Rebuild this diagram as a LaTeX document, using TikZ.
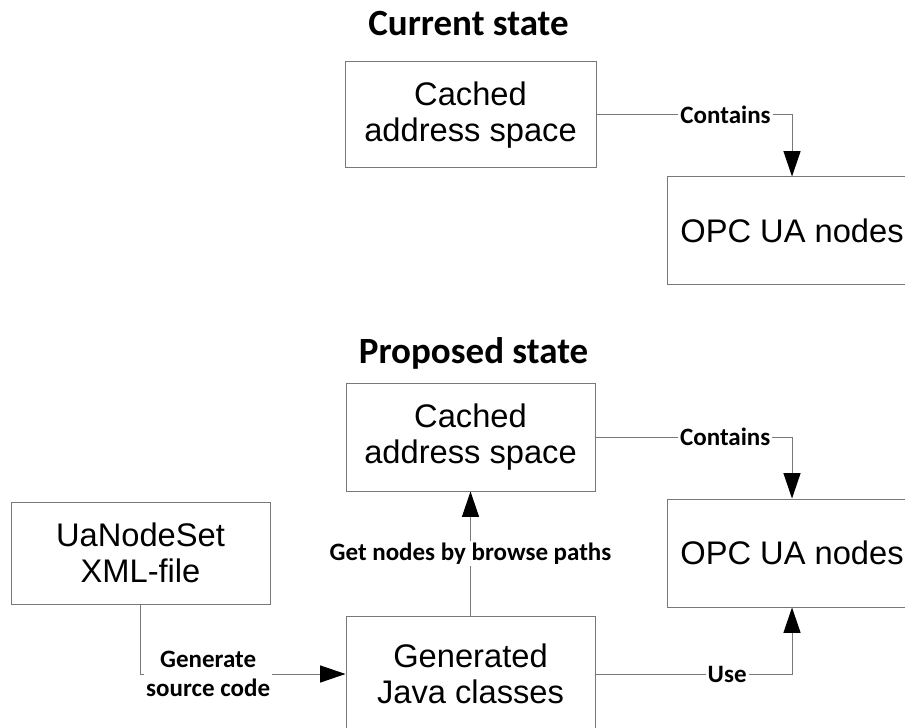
\documentclass[tikz,border=0pt]{standalone}
\usepackage{fontspec}
\setmainfont{Liberation Sans}
\newfontfamily\labfont{Carlito}
\usetikzlibrary{arrows.meta}
\definecolor{linegray}{RGB}{120,120,120}
\tikzset{
  box/.style={draw=linegray, line width=0.75pt, fill=white, inner sep=0pt, align=center,
    font=\fontsize{24.5}{27}\selectfont},
  conn/.style={draw=linegray, line width=0.75pt,
    -{Triangle[length=19pt,width=12.75pt,color=black,fill=black]}},
  plain/.style={draw=linegray, line width=0.75pt},
  lab/.style={fill=white, inner xsep=1.5pt, inner ysep=1pt, align=center,
    font=\labfont\bfseries\fontsize{18.75}{22}\selectfont},
  ttl/.style={anchor=base, font=\labfont\bfseries\fontsize{27.75}{32}\selectfont}
}
\begin{document}
\begin{tikzpicture}[x=0.75pt,y=-0.75pt]
\useasboundingbox (0,0) rectangle (905,727);
\clip (0,0) rectangle (905,727);
\fill[white] (0,0) rectangle (905,727);

% Current state
\node[ttl] (t1) at (468.5,36) {Current state};
\node[box, minimum width=188.25pt, minimum height=79.5pt] (cur) at (470.5,115) {Cached\\address space};
\node[box, minimum width=187.5pt, minimum height=80.25pt] (curopc) at (792,230.5) {OPC UA nodes};
\draw[conn] (cur.east) -| node[lab, pos=0.33] {Contains} (curopc.north);

% Proposed state
\node[ttl] (t2) at (473.5,363) {Proposed state};
\node[box, minimum width=186.75pt, minimum height=81pt] (pcache) at (470.5,437) {Cached\\address space};
\node[box, minimum width=187.5pt, minimum height=81pt] (popc) at (792,553) {OPC UA nodes};
\node[box, minimum width=194.25pt, minimum height=76.5pt] (uan) at (140.5,553) {UaNodeSet\\XML-file};
\node[box, minimum width=186.75pt, minimum height=87pt] (java) at (470.5,674) {Generated\\Java classes};

\draw[conn] (pcache.east) -| node[lab, pos=0.33] {Contains} (popc.north);
\draw[conn] (java.north) -- node[lab] {Get nodes by browse paths} (pcache.south);
\draw[conn] (java.east) -| node[lab, pos=0.335] {Use} (popc.south);
\draw[conn] (uan.south) |- node[lab, pos=0.665] {Generate\\source code} (java.west);
\end{tikzpicture}
\end{document}
